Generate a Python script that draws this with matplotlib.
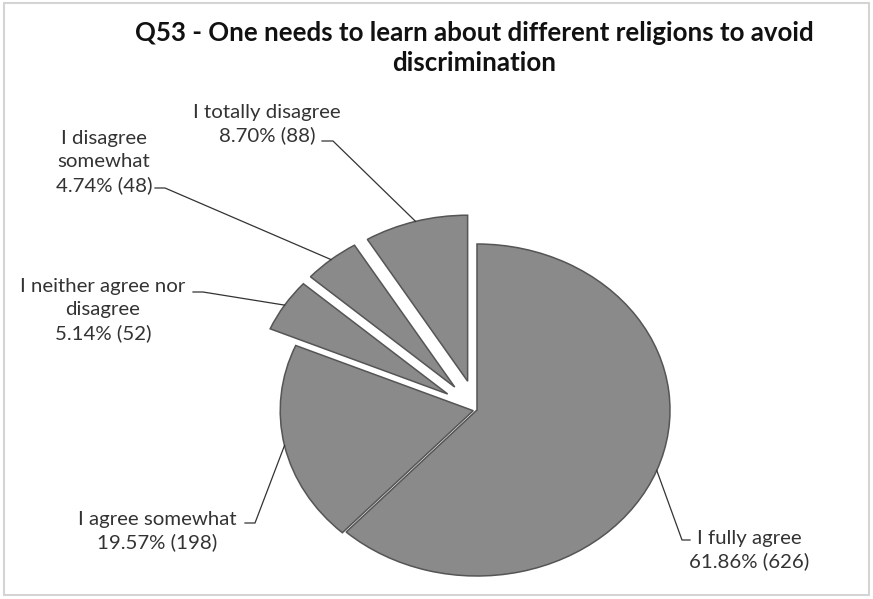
import numpy as np
import matplotlib
matplotlib.use("Agg")
import matplotlib.pyplot as plt
from matplotlib.patches import Rectangle

# survey answers, in the order the slices run clockwise from 12 o'clock
answers = ["I fully agree", "I agree somewhat", "I neither agree nor\ndisagree",
           "I disagree\nsomewhat", "I totally disagree"]
counts = [626, 198, 52, 48, 88]
percents = [61.86, 19.57, 5.14, 4.74, 8.70]
explode = [0.0, 0.02, 0.18, 0.18, 0.18]

title = "Q53 - One needs to learn about different religions to avoid\ndiscrimination"

W, H = 873, 599
fig = plt.figure(figsize=(W / 100, H / 100), dpi=100)
fig.patch.set_facecolor("white")

# pie axes: unit circle -> 193 x 166 px ellipse centred at (477, 410)
cx, cy, rx, ry, pad = 477, 410, 193, 166, 1.3
ax = fig.add_axes([(cx - rx * pad) / W, 1 - (cy + ry * pad) / H,
                   2 * rx * pad / W, 2 * ry * pad / H])
wedges, _ = ax.pie(counts, explode=explode, startangle=90, counterclock=False,
                   colors=["#8a8a8a"] * len(counts),
                   wedgeprops=dict(edgecolor="#555555", linewidth=1.1))
ax.set_aspect("auto")
ax.set_xlim(-pad, pad)
ax.set_ylim(-pad, pad)
ax.axis("off")

# overlay in pixel coords for labels and leader lines
ov = fig.add_axes([0, 0, 1, 1], zorder=5)
ov.set_xlim(0, W)
ov.set_ylim(H, 0)
ov.axis("off")
ov.patch.set_alpha(0)

ov.add_patch(Rectangle((4, 3), W - 8, H - 7, fill=False, edgecolor="#d4d4d4", linewidth=1.5))

ov.text(474, 48, title, ha="center", va="center", fontsize=18.6, fontweight="bold",
        family="Lato", color="#111111", linespacing=1.28)

# label block centre and the point where the leader starts (layout only)
label_pos = [(749, 550), (157, 531), (103, 310), (104, 162), (267, 124)]
leader_start = [((690, 540), (682, 540)), ((245, 523), (255, 523)),
                ((193, 292), (203, 292)), ((155, 188), (165, 188)),
                ((322, 141), (333, 141))]

for i, w in enumerate(wedges):
    mid = np.deg2rad((w.theta1 + w.theta2) / 2)
    ox, oy = w.center
    edge = ax.transData.transform((ox + np.cos(mid), oy + np.sin(mid)))
    ex, ey = ov.transData.inverted().transform(edge)
    (x0, y0), (x1, y1) = leader_start[i]
    ov.plot([x0, x1, ex], [y0, y1, ey], color="#333333", linewidth=0.9)
    txt = "{}\n{:.2f}% ({})".format(answers[i], percents[i], counts[i])
    ov.text(label_pos[i][0], label_pos[i][1], txt, ha="center", va="center",
            multialignment="center", fontsize=14.7, family="Lato",
            color="#333333", linespacing=1.4)

fig.savefig("out.png", dpi=100)
